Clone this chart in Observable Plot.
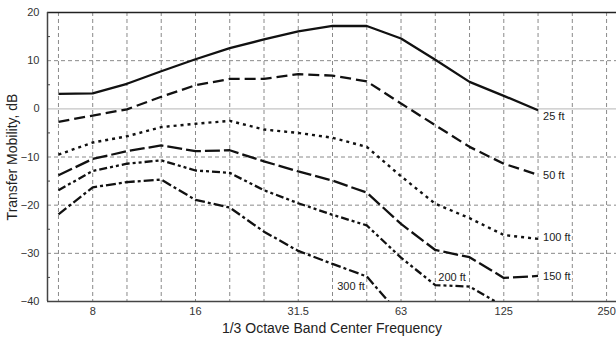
<!DOCTYPE html>
<html>
<head>
<meta charset="utf-8">
<script src="https://cdn.jsdelivr.net/npm/d3@7"></script>
<script src="https://cdn.jsdelivr.net/npm/@observablehq/plot@0.6"></script>
<style>
  html, body { margin: 0; padding: 0; background: #fff; }
  #chart svg { display: block; }
</style>
</head>
<body>
<div id="chart"></div>
<script>
// 1/3 octave band centre frequencies (Hz)
const bands = ["6.3", "8", "10", "12.5", "16", "20", "25", "31.5", "40", "50", "63", "80", "100", "125", "160", "200", "250"];
const labelledBands = ["8", "16", "31.5", "63", "125", "250"];

// Transfer mobility (dB) per band, one array per source distance
const ft25  = [3.1, 3.2, 5.2, 7.8, 10.3, 12.6, 14.4, 16.1, 17.2, 17.2, 14.6, 10.2, 5.6, 2.7, -0.3];
const ft50  = [-2.7, -1.4, -0.1, 2.5, 4.9, 6.2, 6.2, 7.2, 6.9, 5.7, 1.1, -3.4, -7.9, -11.4, -13.7];
const ft100 = [-9.5, -7.0, -5.7, -3.8, -3.1, -2.5, -4.3, -5.0, -6.0, -7.9, -14.0, -19.7, -22.7, -26.2, -27.0];
const ft150 = [-13.8, -10.4, -8.8, -7.6, -8.8, -8.6, -10.9, -13.0, -14.9, -17.4, -23.9, -29.3, -30.8, -35.1, -34.7];
const ft200 = [-16.9, -12.9, -11.4, -10.7, -12.8, -13.3, -16.9, -19.6, -22.0, -24.2, -30.9, -36.6, -36.9, -41.0];
const ft300 = [-21.9, -16.3, -15.2, -14.7, -18.9, -20.5, -25.5, -29.5, -32.2, -34.8, -43.0];

const seriesNames = ["25 ft", "50 ft", "100 ft", "150 ft", "200 ft", "300 ft"];
const seriesValues = [ft25, ft50, ft100, ft150, ft200, ft300];

const yTicks = [20, 10, 0, -10, -20, -30, -40];
const yMinorTicks = [15, 5, -5, -15, -25, -35];

// line styles and label placement for each distance
const styles = {
  "25 ft":  {dash: null,                 width: 2.3, at: "last", anchor: "start", dx: 5,  dy: 6},
  "50 ft":  {dash: "11,5",               width: 2.3, at: "last", anchor: "start", dx: 5,  dy: 1},
  "100 ft": {dash: "3,4",                width: 2.4, at: "last", anchor: "start", dx: 5,  dy: -1},
  "150 ft": {dash: "15,4",               width: 2.3, at: "last", anchor: "start", dx: 5,  dy: 0},
  "200 ft": {dash: "8,3,3,3,3,3",        width: 2.3, at: 11,     anchor: "start", dx: 3,  dy: -8},
  "300 ft": {dash: "10,3,3,3",           width: 2.3, at: 9,      anchor: "end",   dx: -2, dy: 10}
};

const rows = seriesNames.flatMap((name, s) =>
  seriesValues[s].map((v, i) => ({series: name, band: i, value: v}))
);

const labelRows = seriesNames.map((name, s) => {
  const st = styles[name];
  const i = st.at === "last" ? seriesValues[s].length - 1 : st.at;
  return {series: name, band: i, value: seriesValues[s][i]};
});

const W = 616, H = 338;
const M = {left: 47, right: 0, top: 12, bottom: 37};
const xDomain = [-0.32, bands.length - 1 + 0.29];
const ink = "#111";
const grid = "#8a8a8a";

const marks = [
  // grid
  Plot.ruleX(d3.range(bands.length), {stroke: grid, strokeDasharray: "4,3", strokeWidth: 1}),
  Plot.ruleY([10, -10, -20, -30], {stroke: grid, strokeDasharray: "4,3", strokeWidth: 1}),
  Plot.ruleY([0], {stroke: "#c4c4c4", strokeWidth: 1.2}),
  // frame edges
  Plot.ruleY([20], {stroke: "#222", strokeWidth: 1.5}),
  Plot.ruleY([-40], {stroke: "#444", strokeWidth: 1.5}),
  Plot.ruleX([xDomain[0]], {stroke: "#444", strokeWidth: 1.5}),
  // short inward minor ticks on the y axis
  Plot.tickY(yMinorTicks, {y: d => d, insetRight: W - M.left - M.right - 3, stroke: "#444", strokeWidth: 1}),
  // axes
  Plot.axisY({ticks: yTicks, tickSize: 0, tickPadding: 8, fontSize: 11, fill: "#333", label: null}),
  Plot.axisX({
    ticks: labelledBands.map(b => bands.indexOf(b)),
    tickFormat: i => bands[i],
    tickSize: 0, tickPadding: 6, fontSize: 11, fill: "#333", label: null
  }),
  // axis titles
  Plot.axisX({
    ticks: [], label: "1/3 Octave Band Center Frequency", labelAnchor: "center",
    labelArrow: false, labelOffset: 31, fontSize: 14, fill: "#222"
  }),
  Plot.axisY({
    ticks: [], label: "Transfer Mobility, dB", labelAnchor: "center",
    labelArrow: false, labelOffset: 40, fontSize: 14, fill: "#222"
  })
];

// one line per distance, each with its own dash pattern
for (const name of seriesNames) {
  const st = styles[name];
  marks.push(Plot.line(rows.filter(r => r.series === name), {
    x: "band", y: "value",
    stroke: ink, strokeWidth: st.width,
    strokeDasharray: st.dash, strokeLinecap: "butt", strokeLinejoin: "miter",
    clip: true
  }));
}

for (const name of seriesNames) {
  const st = styles[name];
  marks.push(Plot.text(labelRows.filter(r => r.series === name), {
    x: "band", y: "value", text: "series",
    textAnchor: st.anchor, dx: st.dx, dy: st.dy,
    fontSize: 11, fill: "#222",
    stroke: "white", strokeWidth: 3, paintOrder: "stroke"
  }));
}

const chart = Plot.plot({
  width: W,
  height: H,
  marginLeft: M.left,
  marginRight: M.right,
  marginTop: M.top,
  marginBottom: M.bottom,
  style: {fontFamily: "'Liberation Sans', Arial, Helvetica, sans-serif", fontSize: "11px", background: "#fff"},
  x: {type: "linear", domain: xDomain},
  y: {domain: [-40, 20]},
  marks
});

document.getElementById("chart").append(chart);
</script>
</body>
</html>
